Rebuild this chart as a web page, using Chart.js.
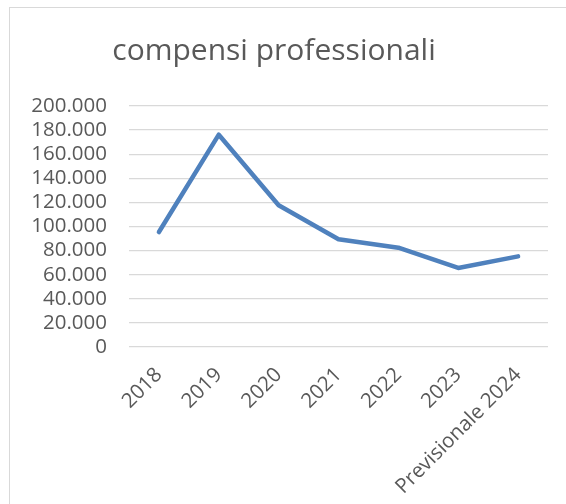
<!DOCTYPE html>
<html>
<head>
<meta charset="utf-8">
<script src="https://cdn.jsdelivr.net/npm/chart.js@4"></script>
<style>
  body { margin: 0; background: #fff; }
  #wrap { position: relative; width: 566px; height: 504px; overflow: hidden; }
  #frame { position: absolute; left: 9px; top: 7px; width: 570px; height: 520px; border: 1px solid #d9d9d9; box-sizing: border-box; }
  canvas { position: absolute; left: 0; top: 0; }
</style>
</head>
<body>
<div id="wrap">
  <div id="frame"></div>
  <canvas id="myChart" width="566" height="504"></canvas>
</div>
<script>
const years = ['2018', '2019', '2020', '2021', '2022', '2023', 'Previsionale 2024'];
const compensi = [95400, 176200, 117600, 89400, 82400, 65600, 75200];
const yMin = 0;
const yMax = 200000;
const yStep = 20000;

// formato italiano: 200.000
function fmt(v) {
    return String(v).replace(/\B(?=(\d{3})+(?!\d))/g, '.');
}

const ctx = document.getElementById('myChart').getContext('2d');
const myChart = new Chart(ctx, {
    type: 'line',
    data: {
        labels: years,
        datasets: [{
            label: 'compensi professionali',
            data: compensi,
            borderColor: '#4f81bd',
            backgroundColor: '#4f81bd',
            borderWidth: 4.5,
            borderCapStyle: 'round',
            borderJoinStyle: 'round',
            pointRadius: 0,
            tension: 0
        }]
    },
    options: {
        responsive: false,
        animation: false,
        layout: {
            padding: { left: 0, right: 18, top: 13, bottom: 0 }
        },
        plugins: {
            legend: { display: false },
            tooltip: { enabled: false },
            title: {
                display: true,
                text: 'compensi professionali',
                color: '#595959',
                font: { family: 'Open Sans', size: 30, weight: 'normal' },
                padding: { top: 20, bottom: 37 }
            }
        },
        scales: {
            x: {
                offset: true,
                grid: { display: false },
                border: { display: false },
                ticks: {
                    autoSkip: false,
                    color: '#595959',
                    font: { family: 'Open Sans', size: 20.5 },
                    minRotation: 45,
                    maxRotation: 45,
                    padding: 8
                },
                afterFit: function (scale) { scale.height = 157; }
            },
            y: {
                min: yMin,
                max: yMax,
                border: { display: false },
                grid: { color: '#d9d9d9', lineWidth: 1.3, drawTicks: false },
                ticks: {
                    autoSkip: false,
                    stepSize: yStep,
                    color: '#595959',
                    font: { family: 'Open Sans', size: 20.5 },
                    padding: 22,
                    callback: function (v) { return fmt(v); }
                },
                afterFit: function (scale) { scale.width = 129; }
            }
        }
    }
});
</script>
</body>
</html>
